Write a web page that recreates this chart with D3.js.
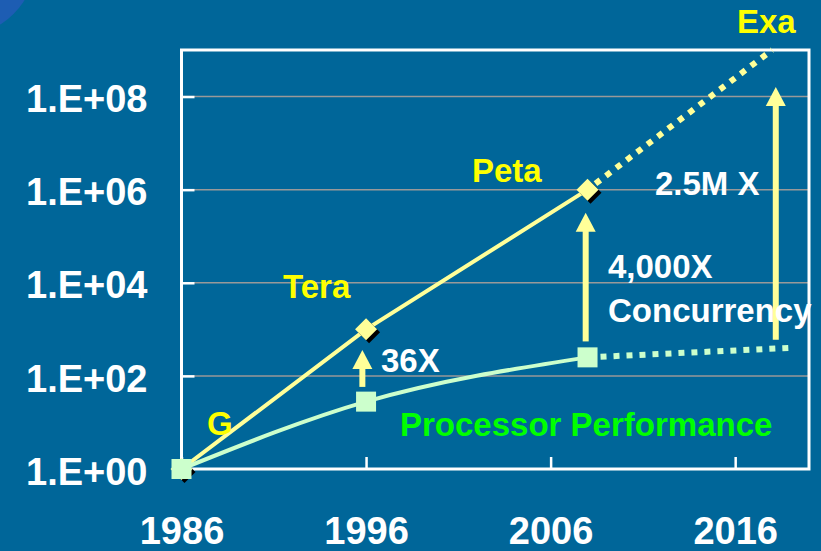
<!DOCTYPE html>
<html>
<head>
<meta charset="utf-8">
<script src="https://cdn.jsdelivr.net/npm/d3@7"></script>
<style>
  html, body { margin: 0; padding: 0; background: #006699; }
  svg { display: block; font-family: "Liberation Sans", Arial, sans-serif; font-weight: bold; }
</style>
</head>
<body>
<script>
// peak machine performance (solid part)
var peakYears = [1986, 1996, 2008];
var peakValues = [1, 1000, 1e6];
// processor performance (solid part)
var procYears = [1986, 1996, 2008];
var procValues = [1, 28, 250];
// projections (dotted)
var peakProjYears = [2008, 2018];
var peakProjValues = [1e6, 1e9];
var procProjYears = [2008, 2019];
var procProjValues = [250, 400];

var yTicks = [1, 1e2, 1e4, 1e6, 1e8];
var yTickLabels = ['1.E+00', '1.E+02', '1.E+04', '1.E+06', '1.E+08'];
var xTicks = [1986, 1996, 2006, 2016];
var xTickLabels = ['1986', '1996', '2006', '2016'];

// gap arrows
var arrowYears = [1995.8, 2007.9, 2018.2];
var arrowFrom = [58, 550, 600];
var arrowTo = [360, 3.2e5, 1.6e8];

var width = 821, height = 551;
var plotLeft = 181.5, plotRight = 809, plotTop = 50, plotBottom = 469;

var svg = d3.select('body').append('svg')
  .attr('width', width)
  .attr('height', height);

svg.append('rect')
  .attr('width', width)
  .attr('height', height)
  .attr('fill', '#006699');

// corner decoration
svg.append('circle')
  .attr('cx', -40).attr('cy', -40).attr('r', 76)
  .attr('fill', '#1d5db3');

var x = d3.scaleLinear().domain([1986, 2020]).range([plotLeft, plotRight]);
var y = d3.scaleLog().domain([1, 1e9]).range([plotBottom, plotTop]);

// grid
svg.append('g').selectAll('line')
  .data(yTicks.slice(1))
  .enter().append('line')
  .attr('x1', plotLeft).attr('x2', plotRight)
  .attr('y1', function(d) { return y(d); })
  .attr('y2', function(d) { return y(d); })
  .attr('stroke', '#999999')
  .attr('stroke-width', 1.5);

// axes
var yAxis = svg.append('g')
  .attr('transform', 'translate(' + plotLeft + ',0)')
  .call(d3.axisLeft(y)
    .tickValues(yTicks)
    .tickSize(-13)
    .tickPadding(34)
    .tickFormat(function(d, i) { return yTickLabels[i]; }));

var xAxis = svg.append('g')
  .attr('transform', 'translate(0,' + plotBottom + ')')
  .call(d3.axisBottom(x)
    .tickValues(xTicks)
    .tickSize(-12)
    .tickPadding(48)
    .tickFormat(function(d, i) { return xTickLabels[i]; }));

[yAxis, xAxis].forEach(function(g) {
  g.select('.domain').remove();
  g.selectAll('.tick line').attr('stroke', '#ffffff').attr('stroke-width', 2.5);
  g.selectAll('.tick text')
    .attr('fill', '#ffffff')
    .attr('font-size', 38)
    .attr('font-weight', 'bold')
    .attr('font-family', '"Liberation Sans", Arial, sans-serif');
});
yAxis.selectAll('.tick text').attr('dy', '0.4em');
xAxis.selectAll('.tick text').attr('dy', '0.71em');

// frame
svg.append('rect')
  .attr('x', plotLeft).attr('y', plotTop)
  .attr('width', plotRight - plotLeft).attr('height', plotBottom - plotTop)
  .attr('fill', 'none')
  .attr('stroke', '#ffffff')
  .attr('stroke-width', 3);

var smooth = d3.line()
  .x(function(d) { return x(d[0]); })
  .y(function(d) { return y(d[1]); })
  .curve(d3.curveMonotoneX);

var straight = d3.line()
  .x(function(d) { return x(d[0]); })
  .y(function(d) { return y(d[1]); });

var peak = d3.zip(peakYears, peakValues);
var proc = d3.zip(procYears, procValues);

svg.append('path')
  .attr('d', straight(d3.zip(peakProjYears, peakProjValues)))
  .attr('fill', 'none')
  .attr('stroke', '#ffff99')
  .attr('stroke-width', 6)
  .attr('stroke-dasharray', '6,7')
  .attr('stroke-dashoffset', -10);

svg.append('path')
  .attr('d', straight(d3.zip(procProjYears, procProjValues)))
  .attr('fill', 'none')
  .attr('stroke', '#ccffcc')
  .attr('stroke-width', 6)
  .attr('stroke-dasharray', '6,7')
  .attr('stroke-dashoffset', -13);

svg.append('path')
  .attr('d', straight(peak))
  .attr('fill', 'none')
  .attr('stroke', '#ffff99')
  .attr('stroke-width', 4);

svg.append('path')
  .attr('d', smooth(proc))
  .attr('fill', 'none')
  .attr('stroke', '#ccffcc')
  .attr('stroke-width', 4);

// arrows
var arrows = svg.append('g').selectAll('g')
  .data(arrowYears)
  .enter().append('g');

arrows.append('line')
  .attr('x1', function(d) { return x(d); })
  .attr('x2', function(d) { return x(d); })
  .attr('y1', function(d, i) { return y(arrowFrom[i]); })
  .attr('y2', function(d, i) { return y(arrowTo[i]) + 15; })
  .attr('stroke', '#ffff99')
  .attr('stroke-width', 6);

arrows.append('path')
  .attr('d', function(d, i) {
    var ax = x(d), ay = y(arrowTo[i]);
    return 'M' + ax + ',' + ay + 'L' + (ax + 10) + ',' + (ay + 19) + 'L' + (ax - 10) + ',' + (ay + 19) + 'Z';
  })
  .attr('fill', '#ffff99');

// diamond markers with shadow
var diamond = 'M0,-11L11,0L0,11L-11,0Z';
var dm = svg.append('g').selectAll('g')
  .data(peak)
  .enter().append('g')
  .attr('transform', function(d) { return 'translate(' + x(d[0]) + ',' + y(d[1]) + ')'; });
dm.append('path').attr('d', diamond).attr('transform', 'translate(3,3)').attr('fill', '#000000');
dm.append('path').attr('d', diamond).attr('fill', '#ffff99');

svg.append('g').selectAll('rect')
  .data(proc)
  .enter().append('rect')
  .attr('x', function(d) { return x(d[0]) - 10; })
  .attr('y', function(d) { return y(d[1]) - 10; })
  .attr('width', 20)
  .attr('height', 20)
  .attr('fill', '#ccffcc');

// annotations
var labels = [
  { text: 'Exa', x: 737, y: 33, fill: '#ffff00' },
  { text: 'Peta', x: 472, y: 182, fill: '#ffff00' },
  { text: 'Tera', x: 283, y: 298, fill: '#ffff00' },
  { text: 'G', x: 207, y: 435, fill: '#ffff00' },
  { text: '36X', x: 381, y: 372, fill: '#ffffff' },
  { text: '2.5M X', x: 655, y: 195, fill: '#ffffff' },
  { text: '4,000X', x: 608, y: 278, fill: '#ffffff' },
  { text: 'Concurrency', x: 608, y: 322, fill: '#ffffff' },
  { text: 'Processor Performance', x: 400, y: 436, fill: '#00ff00' }
];

svg.append('g').selectAll('text')
  .data(labels)
  .enter().append('text')
  .attr('x', function(d) { return d.x; })
  .attr('y', function(d) { return d.y; })
  .attr('fill', function(d) { return d.fill; })
  .attr('font-size', 33)
  .attr('font-weight', 'bold')
  .text(function(d) { return d.text; });
</script>
</body>
</html>
